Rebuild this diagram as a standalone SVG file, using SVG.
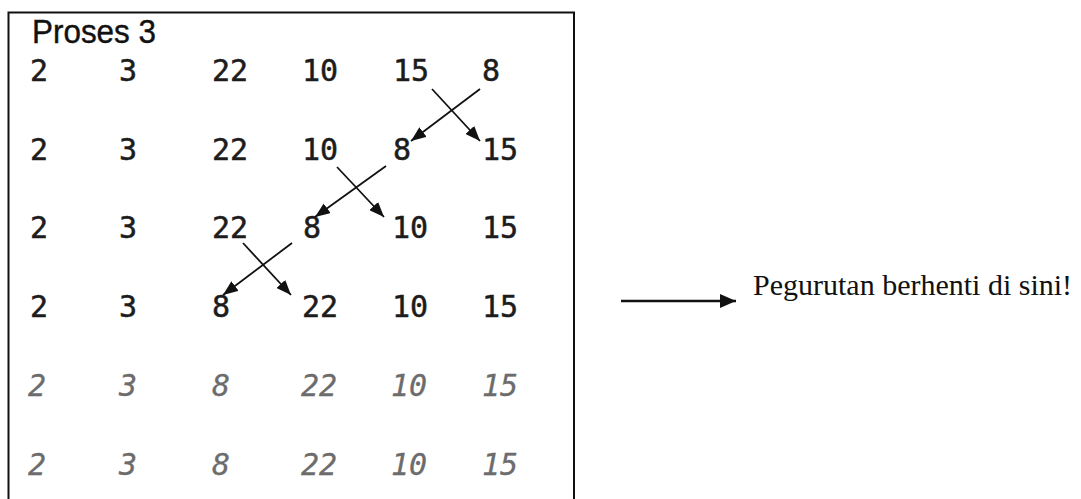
<svg xmlns="http://www.w3.org/2000/svg" width="1081" height="499" viewBox="0 0 1081 499">
<defs>
<marker id="ah" viewBox="0 0 15 12" refX="15" refY="6" markerWidth="15" markerHeight="12" markerUnits="userSpaceOnUse" orient="auto">
<path d="M0,0 L15,6 L0,12 Z" fill="#111"/>
</marker>
<marker id="ah2" viewBox="0 0 16 14" refX="16" refY="7" markerWidth="16" markerHeight="14" markerUnits="userSpaceOnUse" orient="auto">
<path d="M0,0 L16,7 L0,14 Z" fill="#111"/>
</marker>
</defs>
<style>
.n{font-family:"DejaVu Sans Mono","Liberation Mono",monospace;font-size:30px;fill:#1c1c1c;stroke:#1c1c1c;stroke-width:0.5}
.g{font-family:"DejaVu Sans Mono","Liberation Mono",monospace;font-size:30px;font-style:italic;fill:#6c6c6c;stroke:#6c6c6c;stroke-width:0.3}
.t{font-family:"Liberation Sans",Arial,sans-serif;font-size:34px;fill:#111;stroke:#111;stroke-width:0.4}
.s{font-family:"Liberation Serif","Times New Roman",serif;font-size:30px;fill:#111}
.c{stroke:#111;stroke-width:1.8;fill:none;marker-end:url(#ah)}
.c2{stroke:#111;stroke-width:2.5;fill:none;marker-end:url(#ah2)}
</style>
<rect width="1081" height="499" fill="#fff"/>
<rect id="frame" x="8.5" y="12.5" width="565.5" height="500" fill="none" stroke="#111" stroke-width="2"/>
<g id="title"><text class="t" x="32" y="43" textLength="124" lengthAdjust="spacingAndGlyphs">Proses 3</text></g>
<g id="row1">
<text class="n" x="30" y="81">2</text><text class="n" x="119" y="81">3</text><text class="n" x="212" y="81">22</text><text class="n" x="302" y="81">10</text><text class="n" x="393" y="81">15</text><text class="n" x="482" y="81">8</text>
</g>
<g id="row2">
<text class="n" x="30" y="160">2</text><text class="n" x="119" y="160">3</text><text class="n" x="212" y="160">22</text><text class="n" x="302" y="160">10</text><text class="n" x="393" y="160">8</text><text class="n" x="482" y="160">15</text>
</g>
<g id="row3">
<text class="n" x="30" y="238">2</text><text class="n" x="119" y="238">3</text><text class="n" x="212" y="238">22</text><text class="n" x="303" y="238">8</text><text class="n" x="392" y="238">10</text><text class="n" x="482" y="238">15</text>
</g>
<g id="row4">
<text class="n" x="30" y="317">2</text><text class="n" x="119" y="317">3</text><text class="n" x="212" y="317">8</text><text class="n" x="302" y="317">22</text><text class="n" x="392" y="317">10</text><text class="n" x="482" y="317">15</text>
</g>
<g id="row5">
<text class="g" x="28" y="396">2</text><text class="g" x="119" y="396">3</text><text class="g" x="212" y="396">8</text><text class="g" x="301" y="396">22</text><text class="g" x="391" y="396">10</text><text class="g" x="482" y="396">15</text>
</g>
<g id="row6">
<text class="g" x="28" y="475">2</text><text class="g" x="119" y="475">3</text><text class="g" x="212" y="475">8</text><text class="g" x="301" y="475">22</text><text class="g" x="391" y="475">10</text><text class="g" x="482" y="475">15</text>
</g>
<g id="note"><text class="s" x="753" y="295">Pegurutan berhenti di sini!</text></g>
<g id="connectors">
<line class="c" x1="480" y1="89" x2="411" y2="141"/>
<line class="c" x1="432" y1="89" x2="480" y2="141"/>
<line class="c" x1="386" y1="166" x2="315" y2="217"/>
<line class="c" x1="337" y1="167" x2="384" y2="217"/>
<line class="c" x1="292" y1="243" x2="223" y2="295"/>
<line class="c" x1="243" y1="243" x2="291" y2="295"/>
<line class="c2" x1="621" y1="301" x2="736" y2="301"/>
</g>
</svg>
